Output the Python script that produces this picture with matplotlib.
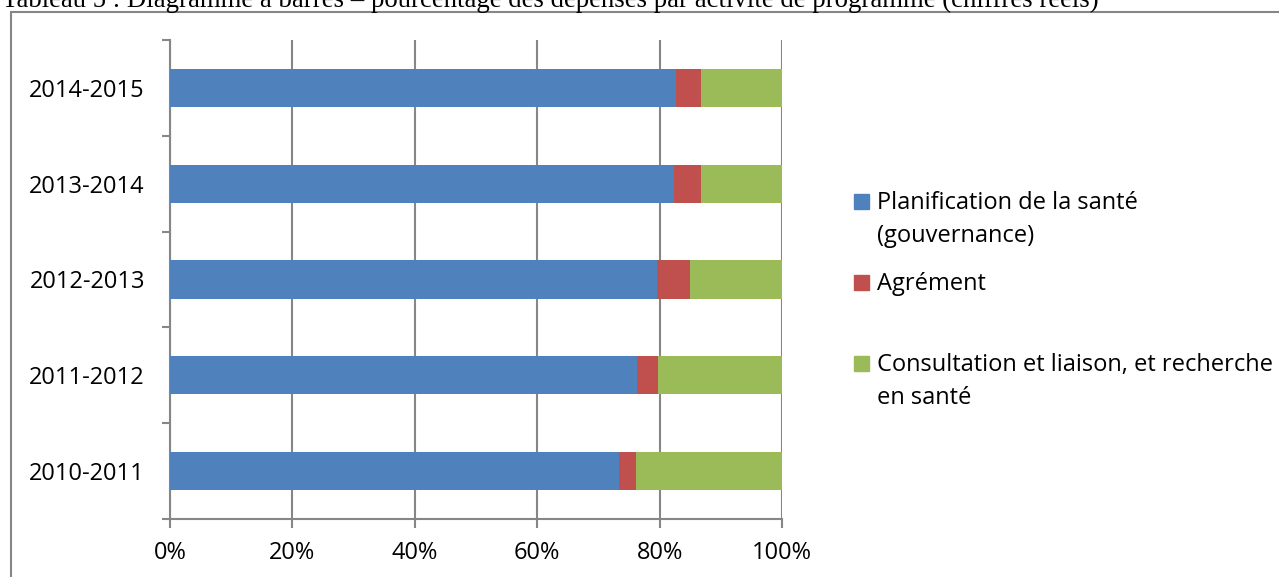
import matplotlib
matplotlib.use("Agg")
import matplotlib.pyplot as plt
from matplotlib.patches import Rectangle
import numpy as np

# data (percent of spending)
years = ["2010-2011", "2011-2012", "2012-2013", "2013-2014", "2014-2015"]
planification = [73.4, 76.3, 79.6, 82.4, 82.6]
agrement = [2.7, 3.4, 5.4, 4.4, 4.2]
consultation = [100 - p - a for p, a in zip(planification, agrement)]
series_labels = ["Planification de la santé\n(gouvernance)", "Agrément",
                 "Consultation et liaison, et recherche\nen santé"]
xticks = [0, 20, 40, 60, 80, 100]
title = ("Tableau 5 : Diagramme à barres – pourcentage des dépenses par "
         "activité de programme (chiffres réels)")

colors = ["#4F81BD", "#C0504D", "#9BBB59"]
grey = "#868686"
W, H = 1279, 577
plt.rcParams["font.family"] = ["Open Sans", "DejaVu Sans"]

fig = plt.figure(figsize=(W / 100, H / 100), dpi=100)
ax = fig.add_axes([170 / W, 1 - 519 / H, (782 - 170) / W, (519 - 40) / H])

y = np.arange(len(years))
left = np.zeros(len(years))
for vals, c in zip([planification, agrement, consultation], colors):
    ax.barh(y, vals, left=left, height=0.4, color=c, zorder=3)
    left += np.array(vals)

ax.set_xlim(0, 100)
ax.set_ylim(-0.5, len(years) - 0.5)
ax.set_xticks(xticks)
ax.set_xticklabels([f"{t}%" for t in xticks])
ax.xaxis.grid(True, color=grey, lw=1.5, zorder=0)
ax.set_axisbelow(True)

# ticks between categories, labels at category centres
ax.set_yticks(np.arange(-0.5, len(years), 1.0))
ax.set_yticklabels([])
ax.set_yticks(y, minor=True)
ax.set_yticklabels(years, minor=True)
ax.tick_params(axis="y", which="major", length=6, width=1.5, color=grey, direction="out")
ax.tick_params(axis="y", which="minor", length=0, pad=18, labelsize=17)
ax.tick_params(axis="x", length=6.5, width=1.5, color=grey, pad=9, labelsize=17)

for s in ["top", "right"]:
    ax.spines[s].set_visible(False)
for s in ["left", "bottom"]:
    ax.spines[s].set_color(grey)
    ax.spines[s].set_linewidth(1.5)

# legend drawn by hand: square beside the first line, wrapped text below
leg_y = [209, 290, 371]
line_step = 33
for lab, c, yb in zip(series_labels, colors, leg_y):
    fig.add_artist(Rectangle((854 / W, 1 - yb / H), 15 / W, 15 / H,
                             color=c, transform=fig.transFigure))
    for i, part in enumerate(lab.split("\n")):
        fig.text(877 / W, 1 - (yb + i * line_step) / H, part, fontsize=17,
                 va="baseline", ha="left")

# frame and caption above it (caption is cut at the top, as in the source)
fig.add_artist(Rectangle((11 / W, -0.05), 1.1, 1 - 12 / H + 0.05, fill=False,
                         edgecolor=grey, lw=1.5, transform=fig.transFigure))
fig.text(2 / W, 1 - 7 / H, title, family="Liberation Serif", fontsize=19.3,
         va="baseline", ha="left")

fig.savefig("out.png", dpi=100)
